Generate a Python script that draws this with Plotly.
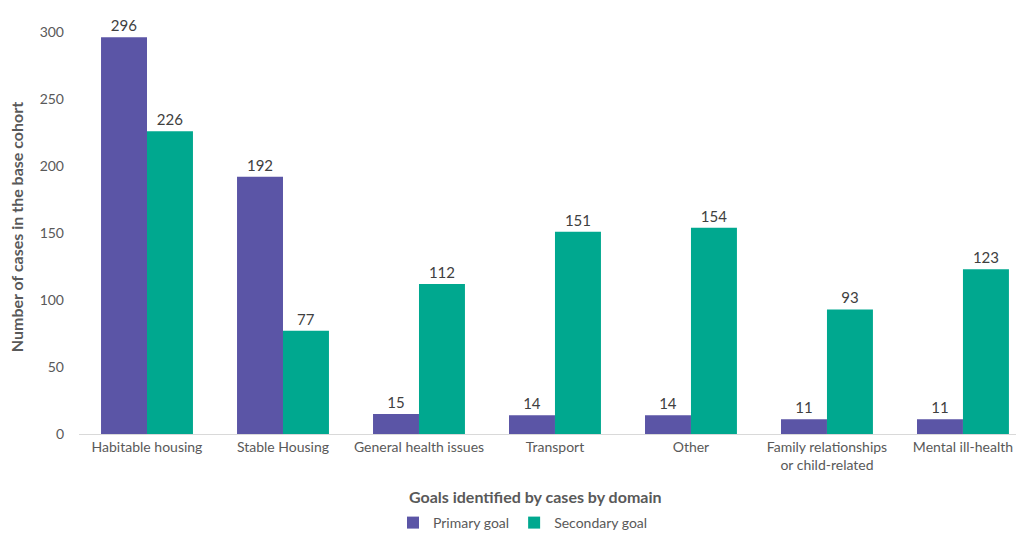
import plotly.graph_objects as go

categories = [
    "Habitable housing",
    "Stable Housing",
    "General health issues",
    "Transport",
    "Other",
    "Family relationships<br>or child-related",
    "Mental ill-health",
]
primary_goal = [296, 192, 15, 14, 14, 11, 11]
secondary_goal = [226, 77, 112, 151, 154, 93, 123]
y_ticks = [0, 50, 100, 150, 200, 250, 300]

FONT = "Lato, 'Open Sans', sans-serif"
TEXT = "#595959"

fig = go.Figure()
fig.add_trace(go.Bar(
    name="Primary goal", x=categories, y=primary_goal,
    marker=dict(color="#5B55A6", line=dict(width=0)),
    text=primary_goal, textposition="outside", cliponaxis=False,
    textfont=dict(size=15, color="#404040", family=FONT),
))
fig.add_trace(go.Bar(
    name="Secondary goal", x=categories, y=secondary_goal,
    marker=dict(color="#00A88F", line=dict(width=0)),
    text=secondary_goal, textposition="outside", cliponaxis=False,
    textfont=dict(size=15, color="#404040", family=FONT),
))

fig.update_layout(
    width=1016, height=533,
    margin=dict(l=79, r=0, t=32, b=99),
    paper_bgcolor="white", plot_bgcolor="white",
    barmode="group", bargap=0.324, bargroupgap=0,
    font=dict(family=FONT, color=TEXT, size=14),
    showlegend=True,
    legend=dict(
        orientation="h", x=(523 - 79) / 937, xanchor="center",
        y=10 / 533, yanchor="middle", yref="container",
        font=dict(size=14, color=TEXT),
        itemwidth=30, traceorder="normal",
    ),
    xaxis=dict(
        range=[-0.5, 6.39], showgrid=False, showline=True,
        linecolor="#D9D9D9", linewidth=1, ticks="",
        tickfont=dict(size=14, color=TEXT),
    ),
    yaxis=dict(
        range=[0, 300], tickvals=y_ticks, showgrid=False, showline=False,
        zeroline=False, ticks="", tickfont=dict(size=14, color=TEXT),
        ticklabelstandoff=14,
    ),
    annotations=[
        dict(text="<b>Goals identified by cases by domain</b>",
             xref="paper", yref="paper", x=(535 - 79) / 937, y=-0.155,
             xanchor="center", yanchor="middle", showarrow=False,
             font=dict(size=16, color=TEXT)),
        dict(text="<b>Number of cases in the base cohort</b>",
             xref="paper", yref="paper", x=-0.066, y=(434 - 227) / 402,
             xanchor="center", yanchor="middle", showarrow=False,
             textangle=-90, font=dict(size=16, color=TEXT)),
    ],
)

fig.write_html("out.html")
